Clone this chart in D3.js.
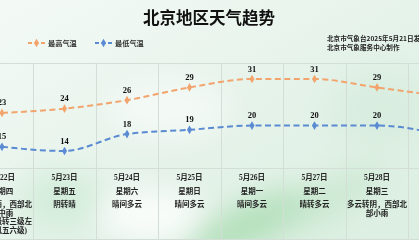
<!DOCTYPE html>
<html>
<head>
<meta charset="utf-8">
<script src="https://cdn.jsdelivr.net/npm/d3@7"></script>
<style>
  html, body { margin: 0; padding: 0; overflow: hidden; }
  svg { display: block; }
</style>
</head>
<body>
<div id="chart"></div>
<script>
// chart data
const dates = ["5月22日", "5月23日", "5月24日", "5月25日", "5月26日", "5月27日", "5月28日", "5月29日"];
const weekdays = ["星期四", "星期五", "星期六", "星期日", "星期一", "星期二", "星期三", "星期四"];
const weather = [
    ["阴转小雨，西部北", "部中雨", "南风二级转三级左", "右(阵风五六级)"],
    ["阴转晴"],
    ["晴间多云"],
    ["晴间多云"],
    ["晴间多云"],
    ["晴转多云"],
    ["多云转阴，西部北", "部小雨"],
    ["多云"]
];
const highTemps = [23, 24, 26, 29, 31, 31, 29, 27];
const lowTemps = [15, 14, 18, 19, 20, 20, 20, 18];
const seriesNames = ["最高气温", "最低气温"];

const width = 419, height = 240;
const orange = "#f2a46c", blue = "#5a8bd2";
const cjk = "'Noto Sans CJK SC', 'Noto Sans', sans-serif";
const serif = "'Liberation Serif', 'Noto Sans CJK SC', serif";

const svg = d3.select("#chart").append("svg")
    .attr("width", width)
    .attr("height", height);

// background: pale mint with blurred green streaks
const defs = svg.append("defs");
const bg = defs.append("linearGradient").attr("id", "bg")
    .attr("x1", 0).attr("y1", 0).attr("x2", 1).attr("y2", 1);
bg.append("stop").attr("offset", 0).attr("stop-color", "#f4faf6");
bg.append("stop").attr("offset", 0.5).attr("stop-color", "#e6f3ea");
bg.append("stop").attr("offset", 1).attr("stop-color", "#dcefe2");
defs.append("filter").attr("id", "blur")
    .attr("x", "-50%").attr("y", "-50%").attr("width", "200%").attr("height", "200%")
    .append("feGaussianBlur").attr("stdDeviation", 14);

svg.append("rect").attr("width", width).attr("height", height).attr("fill", "url(#bg)");
const blobs = svg.append("g").attr("filter", "url(#blur)");
blobs.append("ellipse").attr("cx", 250).attr("cy", 225).attr("rx", 70).attr("ry", 22)
    .attr("fill", "#a9dcb2").attr("opacity", 0.8).attr("transform", "rotate(-25 250 225)");
blobs.append("ellipse").attr("cx", 330).attr("cy", 200).attr("rx", 60).attr("ry", 18)
    .attr("fill", "#c3e6cb").attr("opacity", 0.7).attr("transform", "rotate(-30 330 200)");
blobs.append("ellipse").attr("cx", 150).attr("cy", 215).attr("rx", 50).attr("ry", 25)
    .attr("fill", "#ffffff").attr("opacity", 0.8);
blobs.append("ellipse").attr("cx", 60).attr("cy", 200).attr("rx", 40).attr("ry", 30)
    .attr("fill", "#c8e9d0").attr("opacity", 0.6);
blobs.append("ellipse").attr("cx", 380).attr("cy", 110).attr("rx", 50).attr("ry", 40)
    .attr("fill", "#d2ebdb").attr("opacity", 0.6);
blobs.append("ellipse").attr("cx", 170).attr("cy", 110).attr("rx", 60).attr("ry", 30)
    .attr("fill", "#ffffff").attr("opacity", 0.5);

// scales: one band per day, first day sits on the left edge
const x = d3.scaleBand().domain(dates).range([-29.25, 470.75]).padding(0);
const cx = d => x(d) + x.bandwidth() / 2;
const y = d3.scaleLinear().domain([14, 31]).range([151, 79]);

// grid
const grid = svg.append("g").attr("stroke", "#d3ded7").attr("stroke-width", 1);
dates.slice(1).forEach(d => {
    grid.append("line")
        .attr("x1", Math.round(x(d)) + 0.5).attr("x2", Math.round(x(d)) + 0.5)
        .attr("y1", 63).attr("y2", height);
});
[63.5, 168.5, 239.5].forEach(v => {
    grid.append("line").attr("x1", 0).attr("x2", width).attr("y1", v).attr("y2", v);
});

// title
svg.append("text")
    .attr("x", 209).attr("y", 24)
    .attr("text-anchor", "middle")
    .attr("font-family", cjk).attr("font-weight", "bold").attr("font-size", 16.5)
    .attr("fill", "#111")
    .text("北京地区天气趋势");

// source note
const note = svg.append("text")
    .attr("font-family", cjk).attr("font-weight", "bold").attr("font-size", 6.6)
    .attr("fill", "#222");
note.append("tspan").attr("x", 327).attr("y", 41).text("北京市气象台2025年5月21日发布");
note.append("tspan").attr("x", 327).attr("y", 50).text("北京市气象服务中心制作");

// legend
const diamond = d3.symbol().type(d3.symbolDiamond).size(22);
const legend = svg.append("g");
[[orange, 28, 48], [blue, 95, 115]].forEach(([c, x0, tx], i) => {
    legend.append("line")
        .attr("x1", x0).attr("x2", x0 + 17).attr("y1", 43).attr("y2", 43)
        .attr("stroke", c).attr("stroke-width", 2).attr("stroke-dasharray", "4,2.5");
    legend.append("path").attr("d", diamond)
        .attr("transform", `translate(${x0 + 8.5},43)`).attr("fill", c);
    legend.append("text")
        .attr("x", tx).attr("y", 45.5)
        .attr("font-family", cjk).attr("font-weight", "bold").attr("font-size", 7.2)
        .attr("fill", "#333")
        .text(seriesNames[i]);
});

// temperature lines
const line = d3.line()
    .x((d, i) => cx(dates[i]))
    .y(d => y(d))
    .curve(d3.curveMonotoneX);

[[highTemps, orange], [lowTemps, blue]].forEach(([vals, c]) => {
    const g = svg.append("g");
    g.append("path").datum(vals)
        .attr("d", line)
        .attr("fill", "none").attr("stroke", c)
        .attr("stroke-width", 2).attr("stroke-dasharray", "6,3.5");
    g.selectAll("path.dot").data(vals).enter().append("path")
        .attr("class", "dot")
        .attr("d", diamond)
        .attr("transform", (d, i) => `translate(${cx(dates[i])},${y(d)})`)
        .attr("fill", c);
    g.selectAll("text").data(vals).enter().append("text")
        .attr("x", (d, i) => cx(dates[i]))
        .attr("y", d => y(d) - 7.5)
        .attr("text-anchor", "middle")
        .attr("font-family", serif).attr("font-weight", "bold").attr("font-size", 8.5)
        .attr("fill", "#111")
        .text(d => d);
});

// table under the chart
const table = svg.append("g")
    .attr("font-family", serif).attr("font-weight", "bold").attr("font-size", 7.5)
    .attr("fill", "#222").attr("text-anchor", "middle");
dates.forEach((d, i) => {
    const col = table.append("g");
    col.append("text").attr("x", cx(d)).attr("y", 180).text(d);
    col.append("text").attr("x", cx(d)).attr("y", 194).text(weekdays[i]);
    weather[i].forEach((w, j) => {
        col.append("text").attr("x", cx(d)).attr("y", 207 + j * 8.7).text(w);
    });
});
</script>
</body>
</html>
